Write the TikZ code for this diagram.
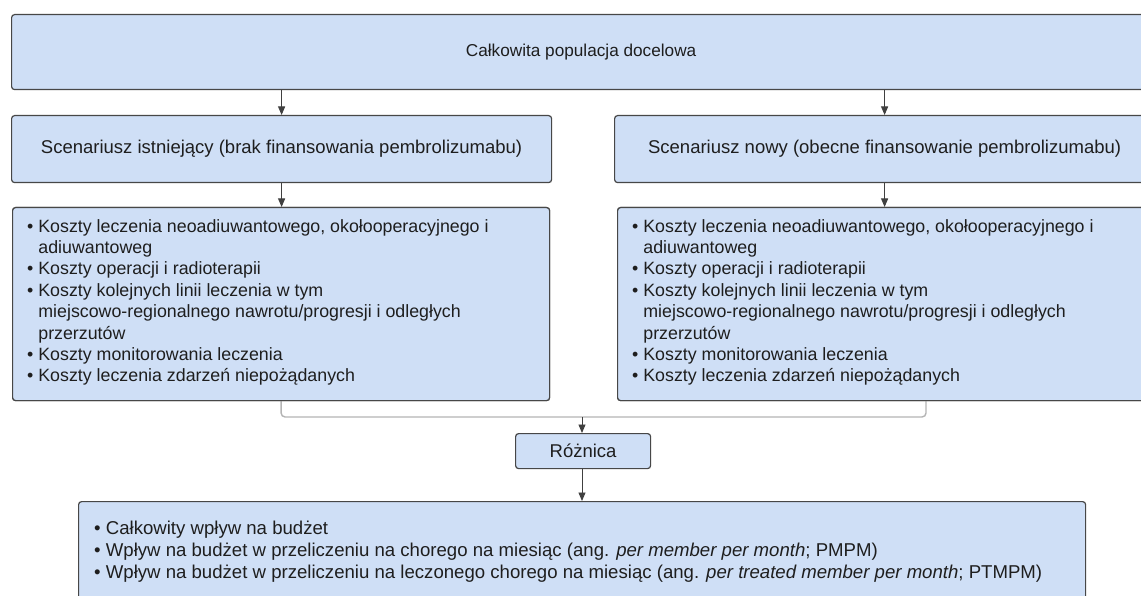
\documentclass[tikz,border=0pt]{standalone}
\usepackage{fontspec}
\setmainfont{Liberation Sans}
\usetikzlibrary{arrows.meta}
\definecolor{boxfill}{HTML}{CFDFF6}
\definecolor{boxline}{HTML}{474747}
\definecolor{arrowc}{HTML}{404040}
\definecolor{bracketc}{HTML}{B4B4B4}
\definecolor{txt}{HTML}{1E1E1E}
\newcommand{\bl}{\textbullet\ }
\newcommand{\ind}{\phantom{\textbullet\ }}
\begin{document}
\begin{tikzpicture}[x=1pt,y=-1pt,
  box/.style={draw=boxline, fill=boxfill, line width=1.2pt, rounded corners=3pt, inner sep=0pt, anchor=north west, text=txt, font=\fontsize{18.5}{22}\selectfont},
  arr/.style={draw=arrowc, line width=0.9pt, -{Triangle[length=8.5pt,width=7pt]}},
  brk/.style={draw=bracketc, line width=1.4pt, rounded corners=4pt},
  list/.style={text=txt, font=\fontsize{17.8}{21.4}\selectfont, align=left, anchor=north west, inner sep=0pt}
]
\useasboundingbox (0,0) rectangle (1141,596);
\fill[white] (0,0) rectangle (1141,596);

% bracket (drawn first)
\node[box, minimum width=537, minimum height=193] (c1) at (12,207) {};
\node[box, minimum width=537, minimum height=193] (c2) at (617,207) {};
\coordinate (bj) at (582,417);
\coordinate (bR) at (926,400);
\draw[brk] (c1.south) |- (bj) -| (bR);

\node[box, minimum width=1139, minimum height=75, font=\fontsize{17.2}{21}\selectfont] (top) at (11,14) {Całkowita populacja docelowa};
\node[box, minimum width=540, minimum height=67] (s1) at (11,115) {Scenariusz istniejący (brak finansowania pembrolizumabu)};
\node[box, minimum width=540, minimum height=67] (s2) at (614,115) {Scenariusz nowy (obecne finansowanie pembrolizumabu)};
\node[box, minimum width=537, minimum height=193] (c1) at (12,207) {};
\node[box, minimum width=537, minimum height=193] (c2) at (617,207) {};
\node[box, minimum width=135, minimum height=35] (diff) at (515,433) {Różnica};
\node[box, minimum width=1007, minimum height=110] (res) at (78,501) {};

\node[list] (t1) at ([shift={(15,12)}]c1.north west) {\bl Koszty leczenia neoadiuwantowego, okołooperacyjnego i\\
\ind adiuwantoweg\\
\bl Koszty operacji i radioterapii\\
\bl Koszty kolejnych linii leczenia w tym\\
\ind miejscowo-regionalnego nawrotu/progresji i odległych\\
\ind przerzutów\\
\bl Koszty monitorowania leczenia\\
\bl Koszty leczenia zdarzeń niepożądanych};
\node[list] (t2) at ([shift={(15,12)}]c2.north west) {\bl Koszty leczenia neoadiuwantowego, okołooperacyjnego i\\
\ind adiuwantoweg\\
\bl Koszty operacji i radioterapii\\
\bl Koszty kolejnych linii leczenia w tym\\
\ind miejscowo-regionalnego nawrotu/progresji i odległych\\
\ind przerzutów\\
\bl Koszty monitorowania leczenia\\
\bl Koszty leczenia zdarzeń niepożądanych};
\node[list, font=\fontsize{18.6}{22}\selectfont] (t3) at ([shift={(16,20)}]res.north west) {\bl Całkowity wpływ na budżet\\
\bl Wpływ na budżet w przeliczeniu na chorego na miesiąc (ang. \textit{per member per month}; PMPM)\\
\bl Wpływ na budżet w przeliczeniu na leczonego chorego na miesiąc (ang. \textit{per treated member per month}; PTMPM)};

\draw[arr] (top.south -| s1.north) -- (s1.north);
\draw[arr] (top.south -| s2.north) -- (s2.north);
\draw[arr] (s1.south) -- (s1.south |- c1.north);
\draw[arr] (s2.south) -- (s2.south |- c2.north);
\draw[arr] (bj) -- (bj |- diff.north);
\draw[arr] (diff.south -| bj) -- (bj |- res.north);
\end{tikzpicture}
\end{document}
